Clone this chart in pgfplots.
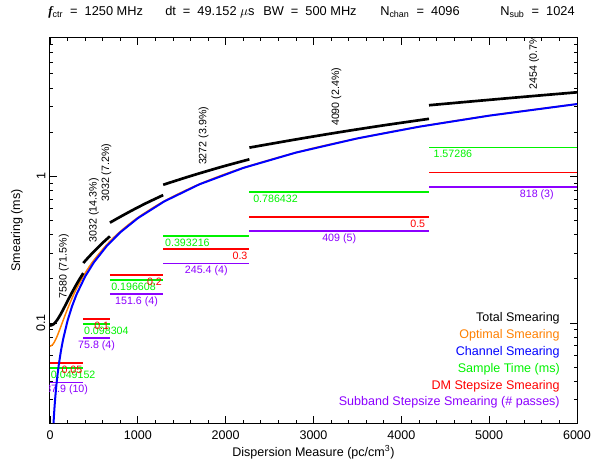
\documentclass[border=0pt]{standalone}
\usepackage{fontspec}
\setmainfont{Liberation Sans}
\newfontfamily\seriff{Liberation Serif}
\usepackage{pgfplots}
\pgfplotsset{compat=1.18}
\definecolor{pgorange}{rgb}{1,0.5,0}
\definecolor{pgpurple}{rgb}{0.55,0,1}
\definecolor{pggreen}{rgb}{0,0.95,0}
\definecolor{pgred}{rgb}{1,0,0}
\definecolor{pgblue}{rgb}{0,0,1}
\newcommand{\mainf}{\fontsize{9.4}{11}\selectfont}
\newcommand{\titf}{\fontsize{9.6}{12}\selectfont}
\newcommand{\annf}{\fontsize{8}{9.5}\selectfont}
\newcommand{\eq}{\hspace{0.55em}=\hspace{0.55em}}
\begin{document}
\begin{tikzpicture}
\begin{axis}[
  scale only axis, width=395.25pt, height=288.75pt,
  ymode=log, xmin=0, xmax=6000, ymin=0.0208, ymax=8.78,
  xtick={0,1000,2000,3000,4000,5000,6000},
  xticklabels={0,1000,2000,3000,4000,5000,6000},
  scaled x ticks=false,
  minor x tick num=4,
  ytick={0.1,1}, yticklabels={0.1,1},
  minor ytick={0.03,0.04,0.05,0.06,0.07,0.08,0.09,0.2,0.3,0.4,0.5,0.6,0.7,0.8,0.9,2,3,4,5,6,7,8},
  tick align=inside, major tick length=5pt, minor tick length=2.6pt,
  tick style={black, line width=0.6pt},
  axis line style={line width=0.75pt},
  ticklabel style={font=\mainf},
  xticklabel style={yshift=-2.5pt},
  yticklabel style={rotate=90, anchor=south},
  xlabel={Dispersion Measure (pc/cm\textsuperscript{3})},
  ylabel={Smearing (ms)},
  label style={font=\mainf},
  xlabel style={at={(axis description cs:0.5,-0.0753)}, anchor=center},
  ylabel style={at={(axis description cs:-0.0626,0.5)}, anchor=center},
  every axis plot/.append style={no markers},
]
% ---- range 1: DM 0-379
\addplot[pggreen, line width=1.4pt] coordinates {(0,0.049152) (379,0.049152)};
\addplot[pgred, line width=1.4pt] coordinates {(0,0.053112) (379,0.053112)};
\addplot[pgpurple, line width=1.4pt] coordinates {(0,0.039316) (379,0.039316)};
% ---- range 2: DM 379-682.2
\addplot[pggreen, line width=1.4pt] coordinates {(379,0.098304) (682.2,0.098304)};
\addplot[pgred, line width=1.4pt] coordinates {(379,0.106225) (682.2,0.106225)};
\addplot[pgpurple, line width=1.4pt] coordinates {(379,0.078631) (682.2,0.078631)};
% ---- range 3: DM 682.2-1288.6
\addplot[pggreen, line width=1.4pt] coordinates {(682.2,0.196608) (1288.6,0.196608)};
\addplot[pgred, line width=1.4pt] coordinates {(682.2,0.21245) (1288.6,0.21245)};
\addplot[pgpurple, line width=1.4pt] coordinates {(682.2,0.15726) (1288.6,0.15726)};
% ---- range 4: DM 1288.6-2270.2
\addplot[pggreen, line width=1.4pt] coordinates {(1288.6,0.393216) (2270.2,0.393216)};
\addplot[pgred, line width=1.4pt] coordinates {(1288.6,0.318675) (2270.2,0.318675)};
\addplot[pgpurple, line width=1.4pt] coordinates {(1288.6,0.25457) (2270.2,0.25457)};
% ---- range 5: DM 2270.2-4315.2
\addplot[pggreen, line width=1.4pt] coordinates {(2270.2,0.786432) (4315.2,0.786432)};
\addplot[pgred, line width=1.4pt] coordinates {(2270.2,0.531125) (4315.2,0.531125)};
\addplot[pgpurple, line width=1.4pt] coordinates {(2270.2,0.42428) (4315.2,0.42428)};
% ---- range 6: DM 4315.2-6000+
\addplot[pggreen, line width=1.4pt] coordinates {(4315.2,1.57286) (6000,1.57286)};
\addplot[pgred, line width=1.4pt] coordinates {(4315.2,1.06225) (6000,1.06225)};
\addplot[pgpurple, line width=1.4pt] coordinates {(4315.2,0.84855) (6000,0.84855)};

% labels of the ranges
\begin{scope}[every node/.style={font=\annf, inner sep=0pt}]
\node[text=pggreen, anchor=base west] at (axis cs:7.58,0.041779) {0.049152};
\node[text=pggreen, anchor=base west] at (axis cs:385.06,0.083558) {0.098304};
\node[text=pggreen, anchor=base west] at (axis cs:694.33,0.167117) {0.196608};
\node[text=pggreen, anchor=base west] at (axis cs:1308.23,0.334234) {0.393216};
\node[text=pggreen, anchor=base west] at (axis cs:2311.1,0.668467) {0.786432};
\node[text=pggreen, anchor=base west] at (axis cs:4364.28,1.336931) {1.57286};
\node[text=pgred, anchor=base east] at (axis cs:371.42,0.045145) {0.05};
\node[text=pgred, anchor=base east] at (axis cs:676.14,0.090291) {0.1};
\node[text=pgred, anchor=base east] at (axis cs:1276.47,0.180583) {0.2};
\node[text=pgred, anchor=base east] at (axis cs:2250.57,0.270874) {0.3};
\node[text=pgred, anchor=base east] at (axis cs:4274.3,0.451456) {0.5};
\node[text=pgpurple, anchor=base] at (axis cs:189.5,0.033419) {37.9 (10)};
\node[text=pgpurple, anchor=base] at (axis cs:530.6,0.066836) {75.8 (4)};
\node[text=pgpurple, anchor=base] at (axis cs:985.4,0.133671) {151.6 (4)};
\node[text=pgpurple, anchor=base] at (axis cs:1779.4,0.216385) {245.4 (4)};
\node[text=pgpurple, anchor=base] at (axis cs:3292.7,0.360638) {409 (5)};
\node[text=pgpurple, anchor=base] at (axis cs:5542.2,0.721268) {818 (3)};
\node[rotate=90, anchor=base west] at (axis cs:189.5,0.1465) {7580 (71.5\%)};
\node[rotate=90, anchor=base west] at (axis cs:530.6,0.35281) {3032 (14.3\%)};
\node[rotate=90, anchor=base west] at (axis cs:672,0.66888) {3032 (7.2\%)};
\node[rotate=90, anchor=base west] at (axis cs:1779.4,1.19123) {3272 (3.9\%)};
\node[rotate=90, anchor=base west] at (axis cs:3292.7,2.19924) {4090 (2.4\%)};
\node[rotate=90, anchor=base west] at (axis cs:5542.2,3.9023) {2454 (0.7\%)};
\end{scope}

% optimal smearing
\addplot[pgorange, line width=1.1pt, smooth] coordinates {
(0,0.069511) (25,0.070711) (50,0.074192) (75,0.079656) (100,0.086729)
(130,0.096842) (160,0.10825) (200,0.12487) (250,0.14713) (300,0.17042)
(400,0.21880) (500,0.26849) (650,0.34423) (800,0.42072) (1000,0.52331)
(1300,0.67784) (1700,0.88448) (2200,1.14319) (3000,1.55756) (4000,2.07584)
(5000,2.59428) (6000,3.11280)};
% channel smearing
\addplot[pgblue, line width=1.5pt] coordinates {
(40,0.020747) (50,0.025934) (60,0.031120) (70,0.036307) (80,0.041494)
(100,0.051867) (125,0.064834) (150,0.077801) (200,0.10373) (250,0.12967)
(300,0.15560) (400,0.20747) (500,0.25934) (650,0.33714) (800,0.41494)
(1000,0.51867) (1300,0.67427) (1700,0.88174) (2200,1.14107) (2800,1.45228)
(3500,1.81535) (4200,2.17841) (5000,2.59335) (6000,3.11202)};
% total smearing
\addplot[black, line width=2pt, smooth] coordinates {
(0,0.095909) (40,0.098127) (80,0.10450) (120,0.11433) (160,0.12683)
(200,0.14128) (250,0.16128) (300,0.18279) (340,0.20074) (379,0.21873)};
\addplot[black, line width=2pt, smooth] coordinates {
(379,0.25647) (440,0.28144) (500,0.30722) (560,0.33391) (620,0.36131) (682.2,0.39029)};
\addplot[black, line width=2pt, smooth] coordinates {
(682.2,0.48345) (800,0.52980) (950,0.59272) (1100,0.65881) (1288.6,0.74514)};
\addplot[black, line width=2pt, smooth] coordinates {
(1288.6,0.87618) (1600,1.00482) (1950,1.15928) (2270.2,1.30670)};
\addplot[black, line width=2pt, smooth] coordinates {
(2270.2,1.57069) (2800,1.78597) (3300,2.00255) (3800,2.22828) (4315.2,2.46779)};
\addplot[black, line width=2pt, smooth] coordinates {
(4315.2,3.05478) (4700,3.20389) (5200,3.40537) (5600,3.57193) (6000,3.74259)};

% legend
\begin{scope}[every node/.style={font=\mainf, inner sep=0pt, anchor=east}]
\node[text=black] at (rel axis cs:0.9677,0.2727) {Total Smearing};
\node[text=pgorange] at (rel axis cs:0.9677,0.2286) {Optimal Smearing};
\node[text=pgblue] at (rel axis cs:0.9677,0.1844) {Channel Smearing};
\node[text=pggreen] at (rel axis cs:0.9677,0.1403) {Sample Time (ms)};
\node[text=pgred] at (rel axis cs:0.9677,0.0961) {DM Stepsize Smearing};
\node[text=pgpurple] at (rel axis cs:0.9677,0.0545) {Subband Stepsize Smearing (\# passes)};
\end{scope}
\end{axis}
% title pieces
\begin{scope}[every node/.style={font=\titf, inner sep=0pt, anchor=base west}]
\node at ([shift={(-1.5pt,16.5pt)}]current axis.north west) {{\seriff\itshape\bfseries f}\textsubscript{ctr}\eq 1250 MHz};
\node at ([shift={(86.25pt,16.5pt)}]current axis.north west) {dt\eq 49.152 $\mu$s};
\node at ([shift={(159.75pt,16.5pt)}]current axis.north west) {BW\eq 500 MHz};
\node at ([shift={(247.5pt,16.5pt)}]current axis.north west) {N\textsubscript{chan}\eq 4096};
\node at ([shift={(337.5pt,16.5pt)}]current axis.north west) {N\textsubscript{sub}\eq 1024};
\end{scope}
\path ([shift={(-37.5pt,-30pt)}]current axis.south west) rectangle ([shift={(15.75pt,28.5pt)}]current axis.north east);
\end{tikzpicture}
\end{document}
